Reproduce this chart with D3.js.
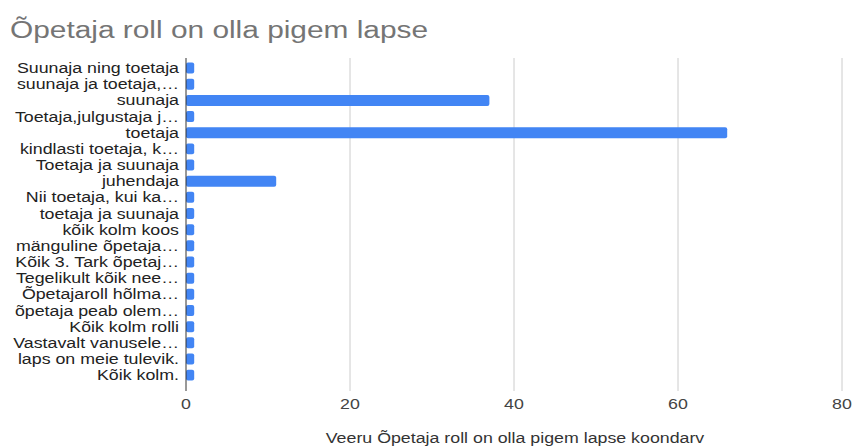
<!DOCTYPE html>
<html>
<head>
<meta charset="utf-8">
<script src="https://cdnjs.cloudflare.com/ajax/libs/d3/7.8.5/d3.min.js"></script>
<style>
  body { margin: 0; background: #fff; }
  svg { font-family: "Liberation Sans", Arial, sans-serif; }
</style>
</head>
<body>
<div id="chart"></div>
<script>
// answers (labels as shown, truncated like the original)
const categories = [
    "Suunaja ning toetaja",
    "suunaja ja toetaja,…",
    "suunaja",
    "Toetaja,julgustaja j…",
    "toetaja",
    "kindlasti toetaja, k…",
    "Toetaja ja suunaja",
    "juhendaja",
    "Nii toetaja, kui ka…",
    "toetaja ja suunaja",
    "kõik kolm koos",
    "mänguline õpetaja…",
    "Kõik 3. Tark õpetaj…",
    "Tegelikult kõik nee…",
    "Õpetajaroll hõlma…",
    "õpetaja peab olem…",
    "Kõik kolm rolli",
    "Vastavalt vanusele…",
    "laps on meie tulevik.",
    "Kõik kolm."
];
const counts = [1, 1, 37, 1, 66, 1, 1, 11, 1, 1, 1, 1, 1, 1, 1, 1, 1, 1, 1, 1];
const xTicks = [0, 20, 40, 60, 80];

const W = 856, H = 448;
const margin = {top: 60, right: 14, bottom: 65, left: 186};
const stretch = 1.27; // the original text is drawn a bit wide

const svg = d3.select("#chart").append("svg")
    .attr("width", W)
    .attr("height", H);

function place(x, y) {
    return "translate(" + x + "," + y + ") scale(" + stretch + ",1)";
}

// title
svg.append("text")
    .attr("transform", place(10, 38))
    .attr("fill", "#757575")
    .style("font-size", "23.5px")
    .text("Õpetaja roll on olla pigem lapse");

const x = d3.scaleLinear()
    .domain([0, 80])
    .range([margin.left, 842]);

const y = d3.scaleBand()
    .domain(categories)
    .range([margin.top, 383.2])
    .paddingInner(0.32)
    .paddingOuter(0.16);

// gridlines
svg.append("g")
    .selectAll("line")
    .data(xTicks.slice(1))
    .join("line")
    .attr("x1", d => x(d))
    .attr("x2", d => x(d))
    .attr("y1", 58)
    .attr("y2", 391)
    .attr("stroke", "#cccccc")
    .attr("stroke-width", 1);

// bars
svg.append("g")
    .selectAll("rect")
    .data(counts)
    .join("rect")
    .attr("x", x(0))
    .attr("y", (d, i) => y(categories[i]))
    .attr("width", d => x(d) - x(0))
    .attr("height", y.bandwidth())
    .attr("rx", 2)
    .attr("fill", "#4285f4");

// baseline
svg.append("line")
    .attr("x1", x(0))
    .attr("x2", x(0))
    .attr("y1", 58)
    .attr("y2", 391)
    .attr("stroke", "#333333")
    .attr("stroke-width", 1);

// category labels
svg.append("g")
    .selectAll("text")
    .data(categories)
    .join("text")
    .attr("transform", d => place(179, y(d) + y.bandwidth() / 2))
    .attr("dy", "0.36em")
    .attr("text-anchor", "end")
    .attr("fill", "#222222")
    .style("font-size", "14px")
    .text(d => d);

// x tick labels
svg.append("g")
    .selectAll("text")
    .data(xTicks)
    .join("text")
    .attr("transform", d => place(x(d), 409))
    .attr("text-anchor", "middle")
    .attr("fill", "#444444")
    .style("font-size", "14px")
    .text(d => d);

// axis title
svg.append("text")
    .attr("transform", place(515, 443))
    .attr("text-anchor", "middle")
    .attr("fill", "#333333")
    .style("font-size", "14px")
    .text("Veeru Õpetaja roll on olla pigem lapse koondarv");
</script>
</body>
</html>
